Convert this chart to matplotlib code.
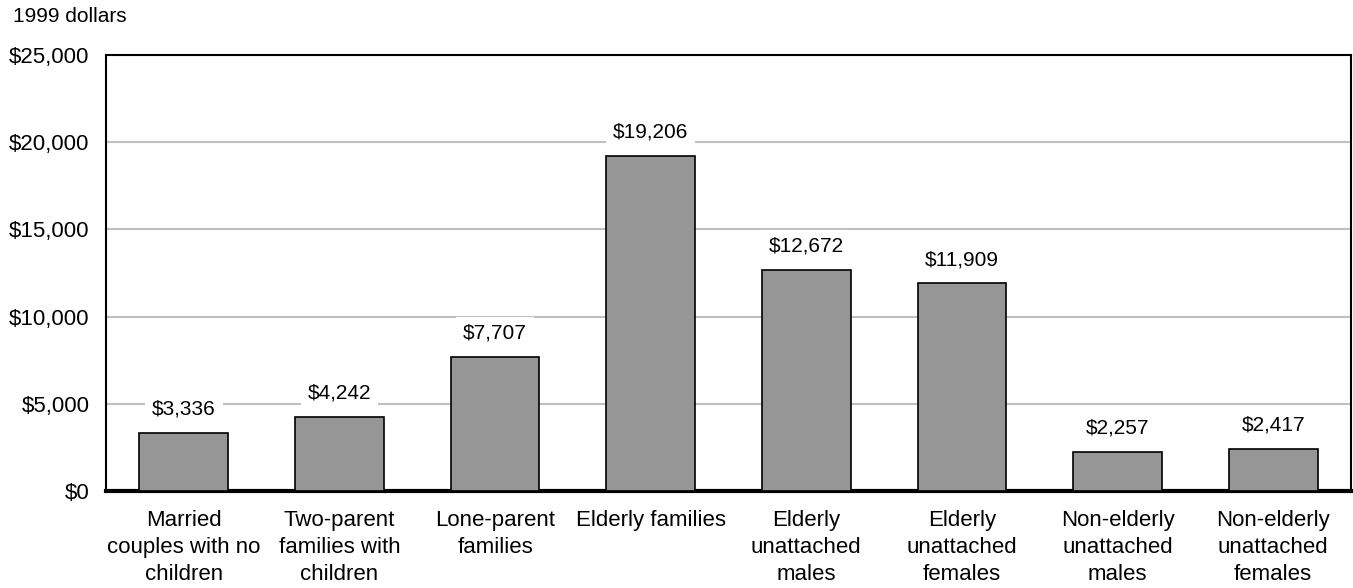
import matplotlib.pyplot as plt
import numpy as np

plt.rcParams['font.family'] = ['Liberation Sans', 'DejaVu Sans']

categories = ['Married\ncouples with no\nchildren', 'Two-parent\nfamilies with\nchildren',
              'Lone-parent\nfamilies', 'Elderly families', 'Elderly\nunattached\nmales',
              'Elderly\nunattached\nfemales', 'Non-elderly\nunattached\nmales',
              'Non-elderly\nunattached\nfemales']
values = [3336, 4242, 7707, 19206, 12672, 11909, 2257, 2417]
yticks = [0, 5000, 10000, 15000, 20000, 25000]

fig = plt.figure(figsize=(13.53, 5.88), dpi=100)
ax = fig.add_axes([106 / 1353, 1 - 491 / 588, 1245 / 1353, 436 / 588])

x = np.arange(len(values))
ax.bar(x, values, width=0.57, color='#969696', edgecolor='black', linewidth=1.2, zorder=3)

for xi, v in zip(x, values):
    ax.annotate('${:,}'.format(v), xy=(xi, v), xytext=(0, 17), textcoords='offset points',
                ha='center', va='center', fontsize=15,
                bbox=dict(facecolor='white', edgecolor='none', pad=5), zorder=4)

ax.set_xlim(-0.5, len(values) - 0.5)
ax.set_ylim(0, 25000)
ax.set_yticks(yticks)
ax.set_yticklabels(['${:,}'.format(t) for t in yticks], fontsize=16)
ax.yaxis.grid(True, color='#c0c0c0', linewidth=1.5, zorder=0)
ax.set_xticks(x)
ax.set_xticklabels(categories, fontsize=16)
for lbl in ax.get_xticklabels():
    lbl.set_linespacing(1.35)
ax.tick_params(axis='x', length=0, pad=14)
ax.tick_params(axis='y', length=0, pad=12)

for side in ['top', 'left', 'right']:
    ax.spines[side].set_linewidth(1.5)
ax.spines['bottom'].set_linewidth(3)

fig.text(13 / 1353, 1 - 16 / 588, '1999 dollars', fontsize=15, va='center', ha='left')

fig.savefig('out.png', dpi=100)
